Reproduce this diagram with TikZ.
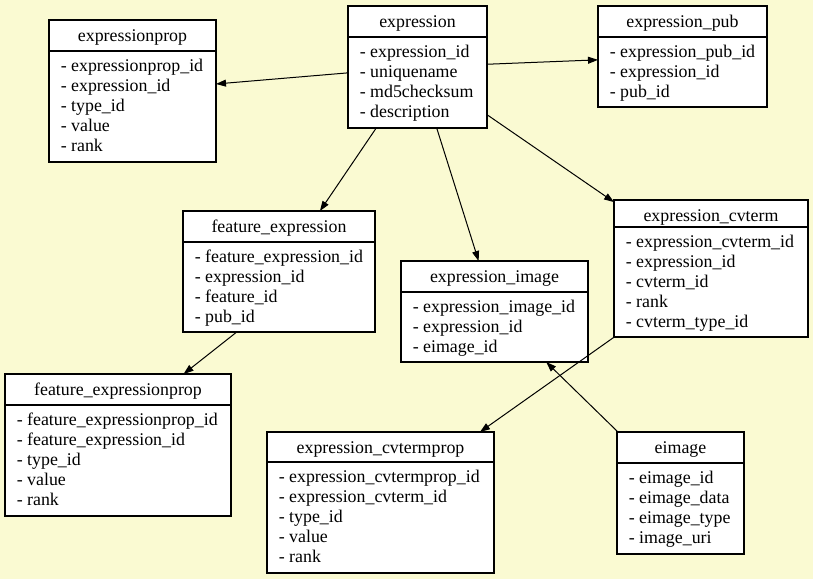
\documentclass[tikz,border=0pt]{standalone}
\usepackage{fontspec}
\setmainfont{Liberation Serif}
\usetikzlibrary{arrows.meta,calc}
\definecolor{bgcol}{HTML}{FAFAD2}
\tikzset{
  tbox/.style={draw, fill=white, line width=0.8pt, inner sep=0pt, outer sep=0pt},
  divline/.style={line width=0.8pt},
  txt/.style={inner sep=0pt, font=\fontsize{13.4}{15}\selectfont},
  arr/.style={line width=0.75pt, -{Triangle[length=7.5pt,width=5.2pt]}}
}
\newcommand\tbl[8]{%
  \node[tbox, minimum width={(#4-#2)*0.75pt}, minimum height={(#5-#3)*0.75pt}] (#1) at ({(#2+#4)/2},{(#3+#5)/2}) {};
  \draw[divline] ({#2},{#6}) -- ({#4},{#6});
  \node[txt, anchor=base] (#1-title) at ({(#2+#4)/2},{#3+21}) {#7};
  \foreach \t [count=\i] in {#8} \node[txt, anchor=base west] (#1-row\i) at ({#2+11.5},{#6+20*\i}) {- \t};
}
\begin{document}
\begin{tikzpicture}[x=0.75pt,y=-0.75pt]
\fill[bgcol] (0,0) rectangle (813,579);
\useasboundingbox (0,0) rectangle (813,579);
\tbl{ep}{49}{20}{216}{162}{51}{expressionprop}{expressionprop\_id,expression\_id,type\_id,value,rank}
\tbl{ex}{348}{6}{487}{128}{37}{expression}{expression\_id,uniquename,md5checksum,description}
\tbl{pub}{598}{6}{767}{107}{37}{expression\_pub}{expression\_pub\_id,expression\_id,pub\_id}
\tbl{fe}{183}{211}{375}{332}{242}{feature\_expression}{feature\_expression\_id,expression\_id,feature\_id,pub\_id}
\tbl{ei}{401}{261}{588}{362}{292}{expression\_image}{expression\_image\_id,expression\_id,eimage\_id}
\tbl{cv}{614}{200}{808}{337}{227}{expression\_cvterm}{expression\_cvterm\_id,expression\_id,cvterm\_id,rank,cvterm\_type\_id}
\tbl{fep}{5}{374}{231}{516}{405}{feature\_expressionprop}{feature\_expressionprop\_id,feature\_expression\_id,type\_id,value,rank}
\tbl{cvp}{267}{432}{494}{573}{462}{expression\_cvtermprop}{expression\_cvtermprop\_id,expression\_cvterm\_id,type\_id,value,rank}
\tbl{eim}{617}{432}{744}{554}{463}{eimage}{eimage\_id,eimage\_data,eimage\_type,image\_uri}
\draw[arr] (ex) -- (ep);
\draw[arr] (ex) -- (pub);
\draw[arr] (ex) -- (fe);
\draw[arr] (ex) -- (ei);
\draw[arr] (ex) -- (cv);
\draw[arr] ($(fe.south west)!0.28!(fe.south east)$) -- ($(fep.north west)!0.79!(fep.north east)$);
\draw[arr] (cv) -- (cvp);
\draw[arr] (eim) -- (ei);
\end{tikzpicture}
\end{document}
